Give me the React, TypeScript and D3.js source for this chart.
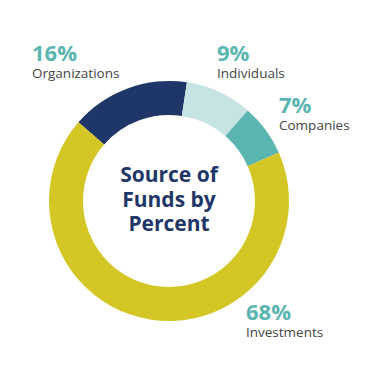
import React from "react";
import * as d3 from "d3";

const categories = ["Organizations", "Individuals", "Companies", "Investments"];
const values = [16, 9, 7, 68];
const colors = ["#1f3668", "#c5e4e3", "#5ab5b1", "#d4c625"];
const labelPos: [number, number][] = [
  [32, 61],
  [217, 61],
  [279, 113],
  [246, 320],
];
const centerLines = ["Source of", "Funds by", "Percent"];

export default function App() {
  const width = 390;
  const height = 381;
  const cx = 169;
  const cy = 201;
  const outerR = 120;
  const innerR = 86;
  const startDeg = -49;
  const pie = d3
    .pie<number>()
    .sort(null)
    .startAngle((startDeg * Math.PI) / 180)
    .endAngle(((startDeg + 360) * Math.PI) / 180);
  const arcs = pie(values);
  const arc = d3.arc<d3.PieArcDatum<number>>().innerRadius(innerR).outerRadius(outerR);
  const font = "'Open Sans', 'Noto Sans', sans-serif";
  return (
    <svg
      width={width}
      height={height}
      style={{ position: "absolute", left: 0, top: 0, background: "#fff" }}
    >
      <g transform={`translate(${cx},${cy})`}>
        {arcs.map((a, i) => (
          <path key={i} d={arc(a) || ""} fill={colors[i]} />
        ))}
        {centerLines.map((t, i) => (
          <text
            key={t}
            x={0}
            y={-19 + i * 24.5}
            textAnchor="middle"
            fontFamily={font}
            fontWeight={700}
            fontSize={21}
            fill="#1f3668"
          >
            {t}
          </text>
        ))}
      </g>
      {categories.map((c, i) => (
        <g key={c}>
          <text
            x={labelPos[i][0]}
            y={labelPos[i][1]}
            fontFamily={font}
            fontWeight={700}
            fontSize={22}
            fill="#5ab5b1"
          >
            {values[i]}%
          </text>
          <text
            x={labelPos[i][0]}
            y={labelPos[i][1] + 16.5}
            fontFamily={font}
            fontSize={13.5}
            fill="#444444"
          >
            {c}
          </text>
        </g>
      ))}
    </svg>
  );
}
